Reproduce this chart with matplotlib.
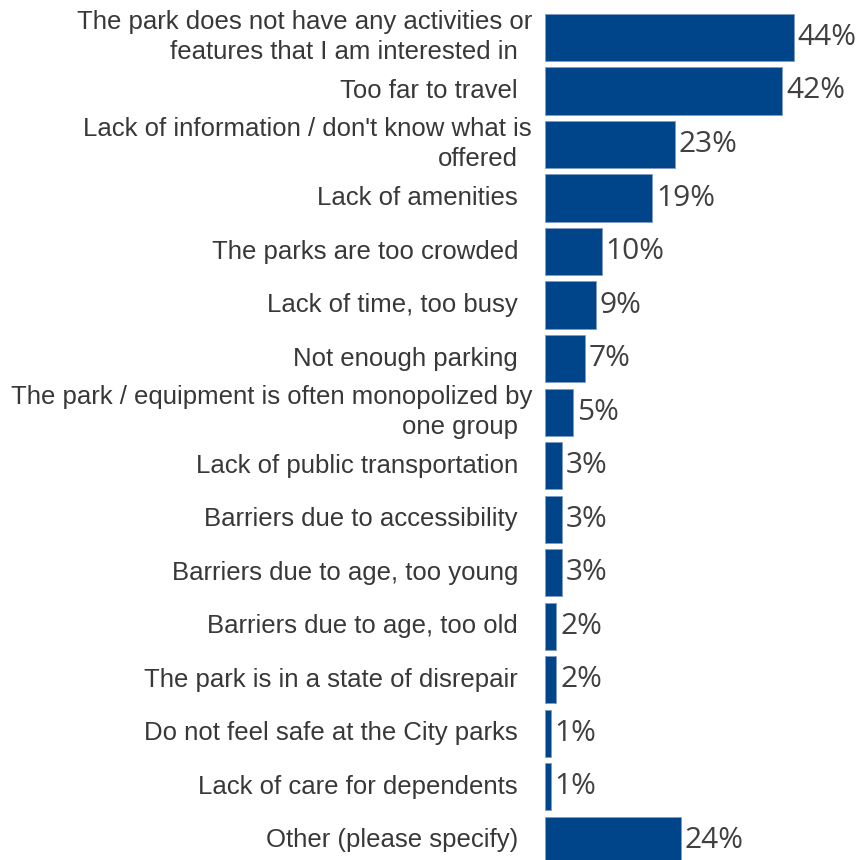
import matplotlib
matplotlib.use('Agg')
import matplotlib.pyplot as plt
from matplotlib.transforms import offset_copy


reasons = [
    'The park does not have any activities or\nfeatures that I am interested in',
    'Too far to travel',
    "Lack of information / don't know what is\noffered",
    'Lack of amenities',
    'The parks are too crowded',
    'Lack of time, too busy',
    'Not enough parking',
    'The park / equipment is often monopolized by\none group',
    'Lack of public transportation',
    'Barriers due to accessibility',
    'Barriers due to age, too young',
    'Barriers due to age, too old',
    'The park is in a state of disrepair',
    'Do not feel safe at the City parks',
    'Lack of care for dependents',
    'Other (please specify)',
]
percents = [44, 42, 23, 19, 10, 9, 7, 5, 3, 3, 3, 2, 2, 1, 1, 24]

W, H = 856, 860
fig = plt.figure(figsize=(W / 100, H / 100), dpi=100)
ax = fig.add_axes([545 / W, 0, 311 / W, 1])

pos = list(range(len(reasons)))
ax.barh(pos, percents, height=0.88, color='#00448a', edgecolor='#7f9cc4', linewidth=0.6)
ax.set_xlim(0, 311 / 5.65)
ax.set_ylim(15.37, -0.70)
ax.axis('off')

label_font = dict(family=['Liberation Sans', 'DejaVu Sans'], size=18.5, color='#383838')
value_font = dict(family=['Open Sans', 'DejaVu Sans'], size=21.5, color='#404040')

for y, text, pct in zip(pos, reasons, percents):
    lines = text.split('\n')
    if len(lines) == 1:
        t = offset_copy(ax.transData, fig=fig, x=-27, y=0, units='dots')
        ax.text(0, y, lines[0], transform=t, ha='right', va='center', **label_font)
    else:
        # first line sits a bit further right, second line lines up with the rest
        t1 = offset_copy(ax.transData, fig=fig, x=-13, y=15, units='dots')
        t2 = offset_copy(ax.transData, fig=fig, x=-27, y=-15, units='dots')
        ax.text(0, y, lines[0], transform=t1, ha='right', va='center', **label_font)
        ax.text(0, y, lines[1], transform=t2, ha='right', va='center', **label_font)

    tv = offset_copy(ax.transData, fig=fig, x=4, y=0, units='dots')
    ax.text(pct, y, f'{pct}%', transform=tv, ha='left', va='center', clip_on=False, **value_font)

fig.savefig('out.png', dpi=100)
